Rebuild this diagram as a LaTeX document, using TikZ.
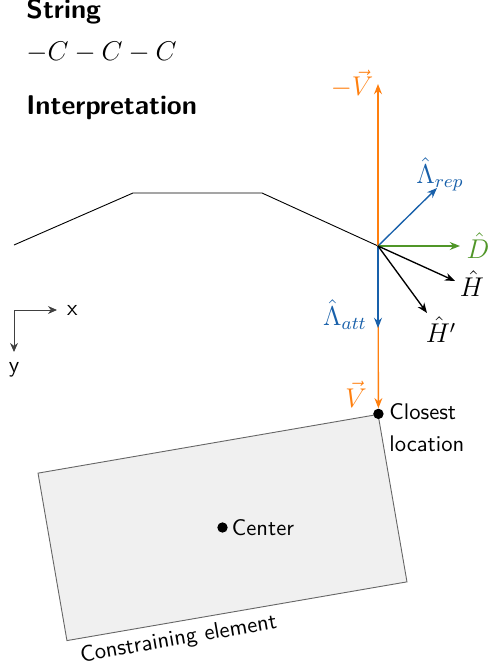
\documentclass[tikz,border=0pt]{standalone}
\usepackage{amsmath,amssymb}
\usetikzlibrary{arrows.meta, positioning, calc}
\definecolor{vorange}{RGB}{255,127,14}
\definecolor{lamblue}{RGB}{24,96,170}
\definecolor{dirgreen}{RGB}{80,150,40}
\definecolor{elemgray}{RGB}{240,240,240}

\begin{document}
\begin{tikzpicture}[x=0.4425pt, y=-0.4425pt, font=\sffamily,
  vec/.style={semithick, -{Stealth[length=4.5pt, width=3.5pt]}},
  veclab/.style={font=\large, inner sep=1pt},
  heading/.style={anchor=west, inner sep=0pt, font=\sffamily\bfseries\large},
  dot/.style={circle, fill=black, inner sep=0pt, minimum size=4.6pt}]
  \useasboundingbox (0,0) rectangle (490,670);

  % string and titles
  \node[heading] (title) at (26,12) {String};
  \node[anchor=west, inner sep=0pt, font=\large] (str) at (26,52) {$-C-C-C$};
  \node[heading] (interp) at (26,108) {Interpretation};

  % axes
  \coordinate (ax0) at (14,310);
  \coordinate (axx) at (57,310);
  \coordinate (axy) at (14,352);
  \draw[black!75, -{Stealth[length=4pt, width=3.5pt]}] (ax0) -- (axx) node[right=1pt, black] (xlab) {x};
  \draw[black!75, -{Stealth[length=4pt, width=3.5pt]}] (ax0) -- (axy) node[below=1pt, black] (ylab) {y};

  % constraining element
  \node[draw=black!60, fill=elemgray, rotate=9.8, inner sep=0pt,
        minimum width=152.7pt, minimum height=75.2pt] (elem) at (222.5,527.5) {};
  \node[rotate=9.8, anchor=north, inner sep=3pt] (elemlab)
        at ($(elem.south west)!0.32!(elem.south east)$) {Constraining element};
  \node[dot] (center) at (elem.center) {};
  \node[right=0pt of center, inner sep=1.5pt] (centerlab) {Center};
  \node[dot] (closest) at (elem.north east) {};
  \node[anchor=north west, align=left, inner sep=0pt] (closestlab) at (389,403) {Closest\\[2pt]location};

  % string shape
  \coordinate (O) at (378,246);
  \coordinate (k1) at (133,193);
  \coordinate (k2) at (262,193);
  \draw[thin] (14,245) -- (k1) -- (k2) -- (O);

  % vectors
  \coordinate (mV) at (378,84);
  \coordinate (rep) at (437,188);
  \coordinate (att) at (378,328);
  \coordinate (D) at (460,246);
  \coordinate (H) at (455,281);
  \coordinate (Hp) at (427,313);
  \draw[vec, vorange] (O) -- (mV);
  \draw[vec, vorange] (O) -- (closest);
  \draw[vec, lamblue] (O) -- (att);
  \draw[vec, lamblue] (O) -- (rep);
  \draw[vec, dirgreen] (O) -- (D);
  \draw[vec] (O) -- (H);
  \draw[vec] (O) -- (Hp);

  % labels
  \node[veclab, vorange] (mVlab) at (352,84) {$-\vec{V}$};
  \node[veclab, vorange] (Vlab) at (356,394) {$\vec{V}$};
  \node[veclab, lamblue] (replab) at (440,174) {$\hat{\Lambda}_{rep}$};
  \node[veclab, lamblue] (attlab) at (345,315) {$\hat{\Lambda}_{att}$};
  \node[veclab, dirgreen] (Dlab) at (478,246) {$\hat{D}$};
  \node[veclab] (Hlab) at (472,284) {$\hat{H}$};
  \node[veclab] (Hplab) at (441,330) {$\hat{H}'$};
\end{tikzpicture}
\end{document}
